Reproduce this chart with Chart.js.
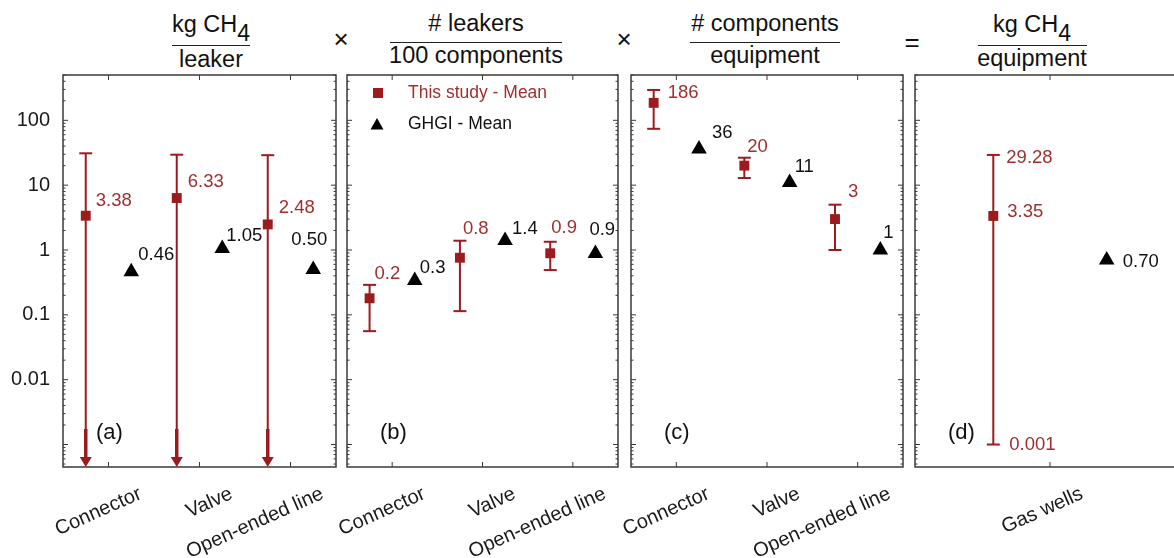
<!DOCTYPE html>
<html>
<head>
<meta charset="utf-8">
<script src="https://cdn.jsdelivr.net/npm/chart.js@4"></script>
<style>
  html, body { margin: 0; padding: 0; background: #fff; overflow: hidden; }
  body { width: 1174px; height: 558px; position: relative; font-family: "Liberation Sans", Arial, sans-serif; color: #111; }
  canvas { position: absolute; top: 0; }
  .t { position: absolute; transform: translateX(-50%); white-space: nowrap; font-size: 23.5px; line-height: 22px; }
  .t sub { font-size: 23px; line-height: 0; vertical-align: -9px; }
  .bar { position: absolute; height: 0; border-top: 1.5px solid #222; }
  .op { position: absolute; transform: translate(-50%, -50%); font-size: 26px; line-height: 26px; }
</style>
</head>
<body>

<!-- fraction headings above the panels -->
<div class="t" style="left:211px; top:13px">kg CH<sub>4</sub></div>
<div class="bar" style="left:172px; width:78px; top:45px"></div>
<div class="t" style="left:211px; top:48px">leaker</div>

<div class="op" style="left:341px; top:39px">×</div>

<div class="t" style="left:476px; top:12px"># leakers</div>
<div class="bar" style="left:390px; width:172px; top:42px"></div>
<div class="t" style="left:476px; top:44px">100 components</div>

<div class="op" style="left:624px; top:39px">×</div>

<div class="t" style="left:765px; top:12px"># components</div>
<div class="bar" style="left:690px; width:150px; top:42px"></div>
<div class="t" style="left:765px; top:44px">equipment</div>

<div class="op" style="left:912px; top:42px">=</div>

<div class="t" style="left:1032px; top:13px">kg CH<sub>4</sub></div>
<div class="bar" style="left:978px; width:109px; top:45px"></div>
<div class="t" style="left:1032px; top:47px">equipment</div>

<canvas id="pa" width="345" height="558" style="left:0px"></canvas>
<canvas id="pb" width="310" height="558" style="left:320px"></canvas>
<canvas id="pc" width="312" height="558" style="left:600px"></canvas>
<canvas id="pd" width="320" height="558" style="left:890px"></canvas>

<script>
// shared log axis
const yTicks = [0.01, 0.1, 1, 10, 100];
const yMin = 0.00045;
const yMax = 500;

// (a) kg CH4 / leaker
const catsA = ['Connector', 'Valve', 'Open-ended line'];
const studyA = [3.38, 6.33, 2.48];
const studyHiA = [31, 29.5, 29];
const studyLoA = [0, 0, 0];          // 0 = lower bound runs off the axis (arrow)
const ghgiA = [0.46, 1.05, 0.50];

// (b) # leakers / 100 components
const catsB = ['Connector', 'Valve', 'Open-ended line'];
const studyB = [0.18, 0.76, 0.89];
const studyHiB = [0.29, 1.39, 1.34];
const studyLoB = [0.056, 0.114, 0.49];
const ghgiB = [0.34, 1.4, 0.88];

// (c) # components / equipment
const catsC = ['Connector', 'Valve', 'Open-ended line'];
const studyC = [186, 20, 3];
const studyHiC = [294, 26.5, 5];
const studyLoC = [74, 12.9, 1.0];
const ghgiC = [36, 11, 1];

// (d) kg CH4 / equipment
const catsD = ['Gas wells'];
const studyD = [3.35];
const studyHiD = [29.28];
const studyLoD = [0.001];
const ghgiD = [0.70];

const RED = '#9b1b1f';
const RED_TEXT = '#a0302f';
const FRAME = '#3a3a3a';
const FONT = '"Liberation Sans", Arial, sans-serif';
const AXIS_TOP = 75;
const AXIS_BOTTOM = 467;

const panels = [
  { id: 'pa', left: 0, width: 345, areaLeft: 63, areaRight: 336, cats: catsA, study: studyA, hi: studyHiA, lo: studyLoA, ghgi: ghgiA,
    digits: 2, shift: 0.25, letter: '(a)', yLabels: true,
    redNudge: [[10, -15], [11, -16], [11, -17]], blackNudge: [[7, -17], [4, -13], [-22, -30]] },
  { id: 'pb', left: 320, width: 310, areaLeft: 347, areaRight: 618, cats: catsB, study: studyB, hi: studyHiB, lo: studyLoB, ghgi: ghgiB,
    digits: 1, shift: 0.25, letter: '(b)', legend: true,
    redNudge: [[5, -24], [3, -29], [1, -25]], blackNudge: [[5, -12], [7, -12], [-6, -24]] },
  { id: 'pc', left: 600, width: 312, areaLeft: 631, areaRight: 903, cats: catsC, study: studyC, hi: studyHiC, lo: studyLoC, ghgi: ghgiC,
    digits: 0, shift: 0.25, letter: '(c)',
    redNudge: [[14, -10], [3, -19], [13, -27]], blackNudge: [[13, -16], [5, -16], [3, -17]] },
  { id: 'pd', left: 890, width: 320, areaLeft: 915, areaRight: 1185, cats: catsD, study: studyD, hi: studyHiD, lo: studyLoD, ghgi: ghgiD,
    digits: 2, shift: 0.21, letter: '(d)', whiskerLabels: true,
    redNudge: [[14, -4]], blackNudge: [[16, 2]] }
];

function line(ctx, x1, y1, x2, y2) {
  ctx.beginPath();
  ctx.moveTo(x1, y1);
  ctx.lineTo(x2, y2);
  ctx.stroke();
}

function panelPlugin(p) {
  return {
    id: 'panel',
    beforeDatasetsDraw(chart) {
      const { ctx, chartArea: a, scales: { x, y } } = chart;
      ctx.save();
      ctx.strokeStyle = FRAME;
      ctx.lineWidth = 1.5;
      ctx.strokeRect(a.left, a.top, a.right - a.left, a.bottom - a.top);

      // inward ticks, minor ones for the log axis
      ctx.lineWidth = 1;
      for (let e = -4; e <= 2; e++) {
        for (let m = 1; m <= 9; m++) {
          const v = m * Math.pow(10, e);
          if (v < yMin || v > yMax) continue;
          const py = y.getPixelForValue(v);
          const len = m === 1 ? 5 : 2.5;
          line(ctx, a.left, py, a.left + len, py);
          line(ctx, a.right, py, a.right - len, py);
        }
      }
      p.cats.forEach((c, i) => {
        const px = x.getPixelForValue(i);
        line(ctx, px, a.bottom, px, a.bottom - 5);
        line(ctx, px, a.top, px, a.top + 5);
      });

      // error bars of this study
      const meta = chart.getDatasetMeta(0);
      ctx.strokeStyle = RED;
      ctx.fillStyle = RED;
      ctx.lineWidth = 2;
      const cap = 6.5;
      p.study.forEach((v, i) => {
        const px = meta.data[i].x;
        const top = y.getPixelForValue(p.hi[i]);
        line(ctx, px - cap, top, px + cap, top);
        if (p.lo[i] > 0) {
          const bot = y.getPixelForValue(p.lo[i]);
          line(ctx, px, top, px, bot);
          line(ctx, px - cap, bot, px + cap, bot);
        } else {
          line(ctx, px, top, px, a.bottom - 8);
          ctx.lineWidth = 3.5;
          line(ctx, px, a.bottom - 38, px, a.bottom - 8);
          ctx.lineWidth = 2;
          ctx.beginPath();
          ctx.moveTo(px - 6, a.bottom - 10);
          ctx.lineTo(px + 6, a.bottom - 10);
          ctx.lineTo(px, a.bottom);
          ctx.closePath();
          ctx.fill();
        }
      });
      ctx.restore();
    },
    afterDatasetsDraw(chart) {
      const { ctx, chartArea: a, scales: { y } } = chart;
      ctx.save();
      ctx.font = '18.5px ' + FONT;
      ctx.textAlign = 'left';
      ctx.textBaseline = 'middle';

      const red = chart.getDatasetMeta(0).data;
      const blk = chart.getDatasetMeta(1).data;
      ctx.fillStyle = RED_TEXT;
      p.study.forEach((v, i) => {
        ctx.fillText(v.toFixed(p.digits), red[i].x + p.redNudge[i][0], red[i].y + p.redNudge[i][1]);
      });
      if (p.whiskerLabels) {
        p.hi.forEach((v, i) => ctx.fillText(v.toFixed(2), red[i].x + 13, y.getPixelForValue(v) + 3));
        p.lo.forEach((v, i) => ctx.fillText(String(v), red[i].x + 16, y.getPixelForValue(v)));
      }
      ctx.fillStyle = '#111';
      p.ghgi.forEach((v, i) => {
        ctx.fillText(v.toFixed(p.digits), blk[i].x + p.blackNudge[i][0], blk[i].y + p.blackNudge[i][1]);
      });

      // panel letter
      ctx.font = '22px ' + FONT;
      ctx.fillText(p.letter, a.left + 33, 433);

      if (p.legend) {
        const ds = chart.data.datasets;
        ctx.font = '17.5px ' + FONT;
        ctx.fillStyle = RED;
        ctx.fillRect(a.left + 26, a.top + 13, 10, 10);
        ctx.fillStyle = RED_TEXT;
        ctx.fillText(ds[0].label, a.left + 61, a.top + 18);
        ctx.fillStyle = '#000';
        const tx = a.left + 30, ty = a.top + 50;
        ctx.beginPath();
        ctx.moveTo(tx, ty - 7);
        ctx.lineTo(tx + 6.5, ty + 4.5);
        ctx.lineTo(tx - 6.5, ty + 4.5);
        ctx.closePath();
        ctx.fill();
        ctx.fillStyle = '#111';
        ctx.fillText(ds[1].label, a.left + 61, a.top + 49);
      }
      ctx.restore();
    }
  };
}

panels.forEach(p => {
  new Chart(document.getElementById(p.id), {
    type: 'scatter',
    data: {
      datasets: [
        {
          label: 'This study - Mean',
          data: p.study.map((v, i) => ({ x: i - p.shift, y: v })),
          pointStyle: 'rect', pointRadius: 7, backgroundColor: RED, borderWidth: 0
        },
        {
          label: 'GHGI - Mean',
          data: p.ghgi.map((v, i) => ({ x: i + p.shift, y: v })),
          pointStyle: 'triangle', pointRadius: 9, backgroundColor: '#000', borderWidth: 0
        }
      ]
    },
    options: {
      responsive: false,
      animation: false,
      devicePixelRatio: 1,
      clip: false,
      layout: { padding: { top: AXIS_TOP, left: 0, bottom: 0, right: p.left + p.width - p.areaRight } },
      plugins: { legend: { display: false }, tooltip: { enabled: false } },
      scales: {
        x: {
          type: 'linear',
          min: -0.5,
          max: p.cats.length - 0.5,
          grid: { display: false, drawTicks: false },
          border: { display: false },
          afterBuildTicks: s => { s.ticks = p.cats.map((c, i) => ({ value: i })); },
          afterFit: s => {
            s.height = 558 - AXIS_BOTTOM;
            s.paddingLeft = 0;
            s.paddingRight = 0;
          },
          ticks: {
            autoSkip: false, minRotation: 24, maxRotation: 24,
            labelOffset: 32, padding: 15,
            color: '#1a1a1a', font: { size: 20, family: FONT },
            callback: v => p.cats[v]
          }
        },
        y: {
          type: 'logarithmic',
          min: yMin,
          max: yMax,
          grid: { display: false, drawTicks: false },
          border: { display: false },
          afterBuildTicks: s => { s.ticks = yTicks.map(v => ({ value: v })); },
          afterFit: s => {
            s.width = p.areaLeft - p.left;
            s.paddingTop = 0;
            s.paddingBottom = 0;
          },
          ticks: {
            display: !!p.yLabels, padding: 13,
            color: '#1a1a1a', font: { size: 20, family: FONT },
            callback: v => String(v)
          }
        }
      }
    },
    plugins: [panelPlugin(p)]
  });
});
</script>
</body>
</html>
